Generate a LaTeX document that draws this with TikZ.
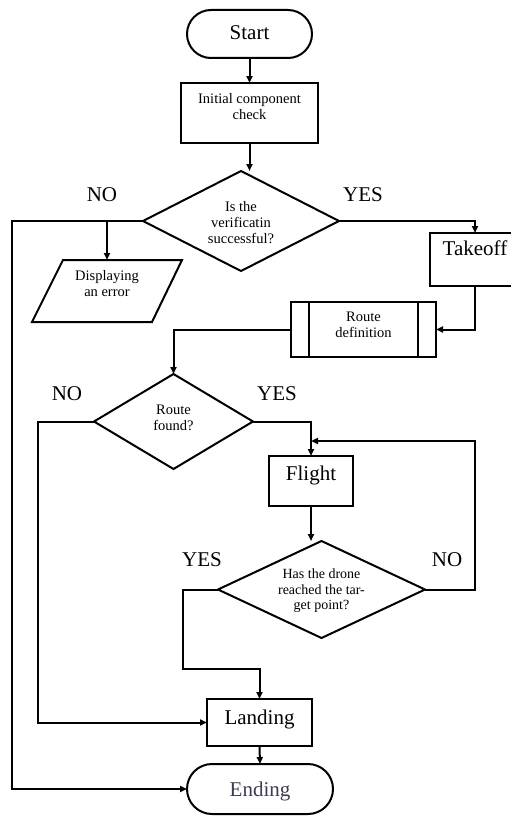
\documentclass[tikz,border=0pt]{standalone}
\usepackage{fontspec}
\setmainfont{Liberation Serif}
\usetikzlibrary{shapes.geometric,shapes.misc,arrows.meta,calc}
\definecolor{endgray}{RGB}{60,60,80}
\tikzset{
  ln/.style={line width=2pt},
  arr/.style={ln,-{Triangle[length=7pt,width=6pt]}},
  shp/.style={draw,ln,inner sep=0pt,outer sep=0pt},
  boxs/.style={shp,rectangle},
  term/.style={shp,rounded rectangle},
  dec/.style={shp,diamond},
  big/.style={font=\fontsize{21}{24}\selectfont,anchor=base,inner sep=0pt},
  small/.style={font=\fontsize{14.5}{16}\selectfont,align=center,anchor=base,inner sep=0pt},
  tiny/.style={font=\fontsize{14}{15.7}\selectfont,align=center,anchor=base,inner sep=0pt},
}
\begin{document}
\begin{tikzpicture}[x=1pt,y=-1pt]
\fill[white] (0,0) rectangle (511,816);
\useasboundingbox (0,0) rectangle (511,816);
\begin{scope}
\clip (0,0) rectangle (511,816);
% shapes
\node[term,minimum width=125pt,minimum height=48pt] (start) at (249.5,34) {};
\node[boxs,minimum width=137pt,minimum height=60pt] (init) at (249.5,113) {};
\node[dec,minimum width=196pt,minimum height=100pt] (d1) at (241,221) {};
\coordinate (dtl) at (63,260);
\coordinate (dtr) at (182,260);
\coordinate (dbr) at (152,322);
\coordinate (dbl) at (32,322);
\coordinate (disp) at (107,260);
\draw[ln,line join=miter] (dtl) -- (dtr) -- (dbr) -- (dbl) -- cycle;
\node[boxs,minimum width=90pt,minimum height=53pt] (to) at (475,259.5) {};
\node[boxs,minimum width=145pt,minimum height=55pt] (rd) at (363.5,329.5) {};
\draw[ln] ($(rd.north west)+(18,0)$) -- ($(rd.south west)+(18,0)$);
\draw[ln] ($(rd.north east)+(-18,0)$) -- ($(rd.south east)+(-18,0)$);
\node[dec,minimum width=159pt,minimum height=95pt] (d2) at (173.5,421.5) {};
\node[boxs,minimum width=84pt,minimum height=50pt] (fl) at (311,481) {};
\node[dec,minimum width=207pt,minimum height=97pt] (d3) at (321.5,589.5) {};
\node[boxs,minimum width=105pt,minimum height=47pt] (land) at (259.5,722.5) {};
\node[term,minimum width=146pt,minimum height=50pt] (endn) at (260,789) {};
% texts (multi-line nodes anchored at the last line's baseline)
\node[big] (tstart) at (249.5,40) {Start};
\node[small] (tinit) at (249.5,119.3) {Initial component\\check};
\node[small] (td1) at (241,243) {Is the\\verificatin\\successful?};
\node[small] (tdisp) at (107,296.7) {Displaying\\an error};
\node[big] (tto) at (475,255.5) {Takeoff};
\node[small] (trd) at (363.5,337) {Route\\definition};
\node[small] (td2) at (173.5,430.7) {Route\\found?};
\node[big] (tfl) at (311,480.7) {Flight};
\node[tiny] (td3) at (321.5,609.7) {Has the drone\\reached the tar-\\get point?};
\node[big] (tland) at (259.5,724.3) {Landing};
\node[big,text=endgray] (tend) at (260,796) {Ending};
% branch labels
\node[big] (l1) at (102,201) {NO};
\node[big] (l2) at (363,201) {YES};
\node[big] (l3) at (67,400.7) {NO};
\node[big] (l4) at (277,400.7) {YES};
\node[big] (l5) at (202,566.7) {YES};
\node[big] (l6) at (447,566.7) {NO};
% connectors
\draw[arr] (start.south) -- (init.north);
\draw[arr] (init.south) -- (init.south |- d1.north);
\draw[arr] (d1.west) -- (12,221) -- (12,789) -- (endn.west);
\coordinate (br) at (disp |- d1.west);
\draw[arr] (br) -- (disp);
\draw[arr] (d1.east) -| (to.north);
\draw[arr] (to.south) |- (rd.east);
\draw[arr] (rd.west) -| (d2.north);
\draw[arr] (d2.west) -- (38,421.5) |- (land.west);
\draw[arr] (d2.east) -| (fl.north);
\draw[arr] (fl.south) -- (fl.south |- d3.north);
\coordinate (loop) at ($(fl.north)+(0,-15)$);
\draw[arr] (d3.east) -- (475,589.5) |- (loop);
\draw[arr] (d3.west) -- (183,589.5) -- (183,669) -| (land.north);
\draw[arr] (land.south) -- (endn.north);
\end{scope}
\end{tikzpicture}
\end{document}
